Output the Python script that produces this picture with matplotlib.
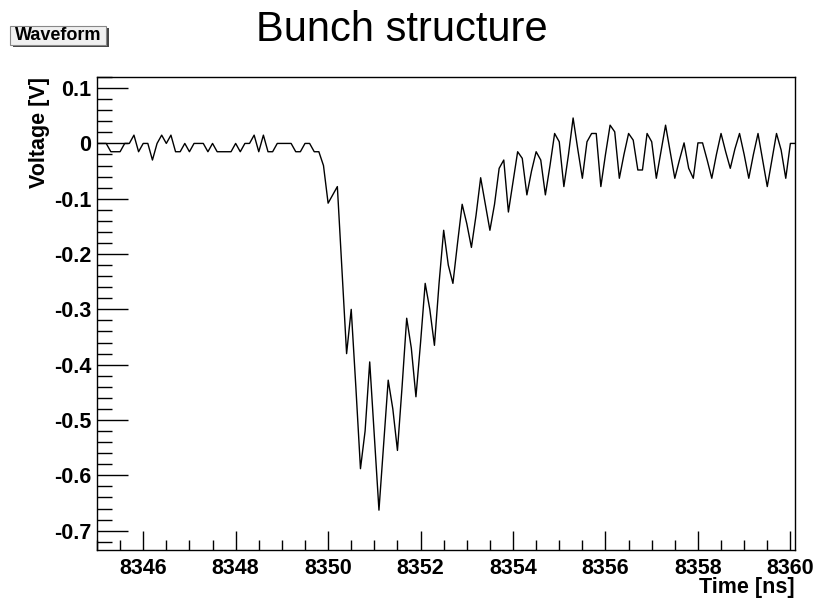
import numpy as np
import matplotlib
matplotlib.use("Agg")
import matplotlib.pyplot as plt
from matplotlib.ticker import MultipleLocator
from matplotlib.patches import Rectangle

plt.rcParams['font.family'] = ['Liberation Sans', 'DejaVu Sans']

# digitizer samples, 0.1 ns apart starting at 8345.0 ns
t_start = 8345.0
t_step = 0.1
voltage = [
    0.0, 0.0, 0.0, -0.015, -0.015, -0.015, 0.0, 0.0, 0.015, -0.015,
    0.0, 0.0, -0.03, 0.0, 0.015, 0.0, 0.015, -0.015, -0.015, 0.0,
    -0.015, 0.0, 0.0, 0.0, -0.015, 0.0, -0.015, -0.015, -0.015, -0.015,
    0.0, -0.015, 0.0, 0.0, 0.015, -0.015, 0.015, -0.015, -0.015, 0.0,
    0.0, 0.0, 0.0, -0.015, -0.015, 0.0, 0.0, -0.015, -0.015, -0.04,
    -0.108, -0.093, -0.078, -0.23, -0.380, -0.300, -0.44, -0.588, -0.52, -0.395,
    -0.53, -0.663, -0.545, -0.428, -0.48, -0.555, -0.44, -0.316, -0.37, -0.458,
    -0.36, -0.253, -0.30, -0.365, -0.253, -0.157, -0.22, -0.253, -0.18, -0.110,
    -0.145, -0.188, -0.13, -0.062, -0.11, -0.157, -0.11, -0.045, -0.030, -0.124,
    -0.07, -0.015, -0.027, -0.093, -0.05, -0.015, -0.030, -0.093, -0.04, 0.018,
    0.003, -0.078, -0.02, 0.046, -0.01, -0.063, 0.003, 0.018, 0.018, -0.078,
    -0.02, 0.033, 0.021, -0.063, -0.02, 0.018, 0.006, -0.048, -0.048, 0.018,
    0.003, -0.063, -0.015, 0.033, -0.015, -0.063, -0.03, 0.001, -0.045, -0.063,
    0.001, 0.001, -0.03, -0.063, -0.02, 0.018, -0.015, -0.045, -0.01, 0.018,
    -0.02, -0.063, -0.02, 0.018, -0.03, -0.078, -0.03, 0.018, -0.012, -0.063,
    0.0, 0.0,
]
time = t_start + t_step * np.arange(len(voltage))

x_major = [8346, 8348, 8350, 8352, 8354, 8356, 8358, 8360]
y_major = [0.1, 0, -0.1, -0.2, -0.3, -0.4, -0.5, -0.6, -0.7]

fig = plt.figure(figsize=(8.19, 6.02), dpi=100)
ax = fig.add_axes([0.1184, 0.0864, 0.9707 - 0.1184, 0.872 - 0.0864])

ax.plot(time, voltage, color='black', lw=1.0)

ax.set_xlim(8345.0, 8360.1)
ax.set_ylim(-0.735, 0.12)

ax.set_xticks(x_major)
ax.set_xticklabels([str(v) for v in x_major])
ax.set_yticks(y_major)
ax.set_yticklabels(['%g' % v for v in y_major])
ax.xaxis.set_minor_locator(MultipleLocator(0.5))
ax.yaxis.set_minor_locator(MultipleLocator(0.02))

ax.tick_params(which='both', direction='in', top=False, right=False,
               labelsize=15.5, width=1.0, color='black')
ax.tick_params(axis='x', which='major', length=14, pad=6)
ax.tick_params(axis='x', which='minor', length=7)
ax.tick_params(axis='y', which='major', length=22, pad=4)
ax.tick_params(axis='y', which='minor', length=11)
for lbl in ax.get_xticklabels() + ax.get_yticklabels():
    lbl.set_fontweight('bold')

for s in ax.spines.values():
    s.set_linewidth(1.0)

ax.set_xlabel('Time [ns]', fontsize=15.5, fontweight='bold', ha='right')
ax.xaxis.set_label_coords(1.0, -0.058)
ax.set_ylabel('Voltage [V]', fontsize=15.5, fontweight='bold', ha='right')
ax.yaxis.set_label_coords(-0.067, 1.0)

fig.text(402 / 819, 1 - 41 / 602, 'Bunch structure', fontsize=30,
         ha='center', va='baseline')

# the little "Waveform" name box in the corner
fig.patches.append(Rectangle((13 / 819, 1 - 47 / 602), 96 / 819, 19 / 602,
                             transform=fig.transFigure, facecolor='#444444',
                             edgecolor='none'))
fig.patches.append(Rectangle((10 / 819, 1 - 45 / 602), 96 / 819, 19 / 602,
                             transform=fig.transFigure, facecolor='#f0f0f0',
                             edgecolor='#888888', lw=0.8))
fig.text(58 / 819, 1 - 35.5 / 602, 'Waveform', fontsize=13, fontweight='bold',
         ha='center', va='center')

fig.savefig('out.png', dpi=100)
